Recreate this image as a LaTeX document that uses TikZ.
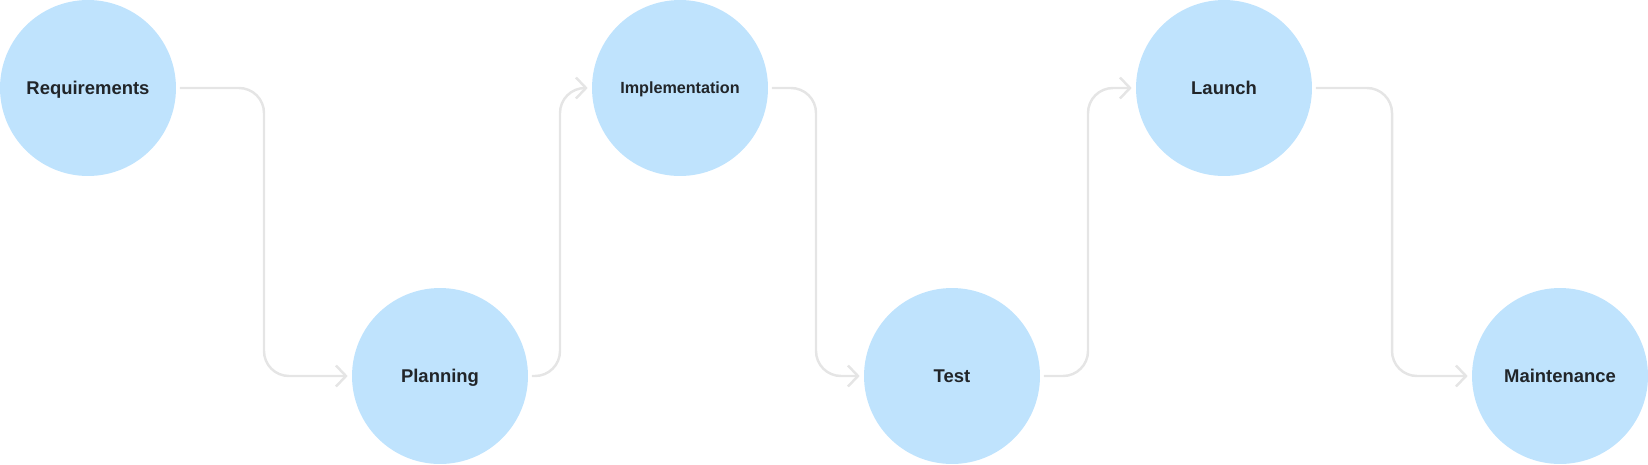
\documentclass[tikz,border=0pt]{standalone}
\usepackage{fontspec}
\setmainfont{Liberation Sans}
\usepackage{xcolor}
\usetikzlibrary{arrows.meta,calc}

\definecolor{stagefill}{RGB}{191,227,253}
\definecolor{stagetext}{RGB}{33,37,41}
\definecolor{flowline}{RGB}{229,229,229}

\tikzset{
  stage/.style={circle,fill=stagefill,minimum size=3.52cm,inner sep=0pt,
    text=stagetext,font=\fontsize{10.5}{12}\selectfont\bfseries,
    text height=7.5pt,text depth=0pt},
  flow/.style={flowline,line width=1.4pt,rounded corners=0.5cm,
    -{Straight Barb[length=0.2cm,width=0.42cm,line width=1.4pt]},
    shorten <=0.07cm,shorten >=0.08cm}
}

\begin{document}
\begin{tikzpicture}[x=0.02cm,y=-0.02cm]
\useasboundingbox (0,0) rectangle (1648,464);

% Stages
\node[stage] (req) at (88,88) {Requirements};
\node[stage] (plan) at (440,376) {Planning};
\node[stage,font=\fontsize{9.2}{11}\selectfont\bfseries,text height=6.6pt] (impl) at (680,88) {Implementation};
\node[stage] (test) at (952,376) {Test};
\node[stage] (launch) at (1224,88) {Launch};
\node[stage] (maint) at (1560,376) {Maintenance};

% Flow
\draw[flow] (req.east) -| ($(req.east)!0.5!(plan.west)$) |- (plan.west);
\draw[flow] (plan.east) -| ($(plan.east)!0.5!(impl.west)$) |- (impl.west);
\draw[flow] (impl.east) -| ($(impl.east)!0.5!(test.west)$) |- (test.west);
\draw[flow] (test.east) -| ($(test.east)!0.5!(launch.west)$) |- (launch.west);
\draw[flow] (launch.east) -| ($(launch.east)!0.5!(maint.west)$) |- (maint.west);
\end{tikzpicture}
\end{document}
